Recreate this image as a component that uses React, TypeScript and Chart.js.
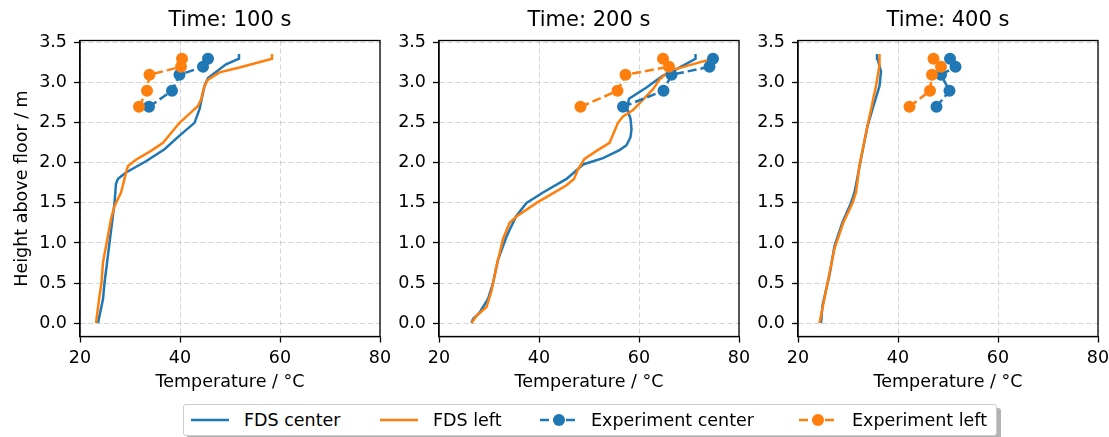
import React, { useEffect, useRef } from "react";
import { Chart, registerables } from "chart.js";

Chart.register(...registerables);

const FONT = "'DejaVu Sans', 'Liberation Sans', sans-serif";
const BLUE = "#1f77b4";
const ORANGE = "#ff7f0e";

const TITLES = ["Time: 100 s", "Time: 200 s", "Time: 400 s"];
const X_TICKS = [20, 40, 60, 80];
const Y_TICKS = [0, 0.5, 1.0, 1.5, 2.0, 2.5, 3.0, 3.5];
const X_MIN = 20;
const X_MAX = 80;
const Y_MIN = -0.168;
const Y_MAX = 3.528;

const EXP_Z = [2.7, 2.9, 3.1, 3.2, 3.3];

// Time 100 s
const FDS_C_100_Z = [0, 0.3, 0.5, 1.0, 1.5, 1.74, 1.8, 1.88, 2.02, 2.17, 2.34, 2.5, 2.67, 2.96, 3.06, 3.23, 3.3, 3.36];
const FDS_C_100_T = [23.6, 24.6, 24.9, 25.9, 26.9, 27.2, 27.6, 29.2, 33.2, 36.9, 39.9, 42.9, 43.9, 44.9, 45.6, 49.2, 51.8, 51.8];
const FDS_L_100_Z = [0, 0.34, 0.5, 0.76, 0.96, 1.3, 1.46, 1.63, 1.8, 1.88, 1.96, 2.04, 2.15, 2.25, 2.5, 2.63, 2.71, 2.79, 2.96, 3.04, 3.13, 3.19, 3.3, 3.36];
const FDS_L_100_T = [23.2, 23.9, 24.3, 24.6, 25.2, 26.2, 26.9, 28.2, 28.9, 29.2, 29.6, 31.2, 34.2, 36.6, 39.9, 42.2, 43.6, 44.2, 44.9, 45.6, 47.9, 51.9, 58.4, 58.4];
const EXP_C_100 = [33.8, 38.4, 39.9, 44.6, 45.6];
const EXP_L_100 = [31.8, 33.4, 33.9, 40.2, 40.4];

// Time 200 s
const FDS_C_200_Z = [0, 0.05, 0.13, 0.3, 0.5, 0.79, 1.08, 1.33, 1.5, 1.63, 1.8, 1.88, 1.98, 2.06, 2.16, 2.22, 2.32, 2.42, 2.55, 2.68, 2.8, 2.94, 3.09, 3.17, 3.3, 3.36];
const FDS_C_200_T = [26.5, 26.8, 28.1, 29.8, 30.8, 31.8, 33.5, 35.4, 37.5, 40.8, 45.5, 47.0, 48.8, 52.8, 56.1, 57.5, 58.3, 58.5, 58.3, 57.6, 58.0, 61.5, 64.8, 67.5, 71.3, 71.3];
const FDS_L_200_Z = [0, 0.09, 0.2, 0.4, 0.71, 1.05, 1.25, 1.33, 1.5, 1.61, 1.72, 1.8, 1.92, 2.05, 2.15, 2.25, 2.5, 2.58, 2.66, 2.79, 2.92, 3.04, 3.15, 3.22, 3.3, 3.36];
const FDS_L_200_T = [26.5, 27.5, 29.5, 30.5, 31.5, 32.8, 34.1, 35.5, 39.5, 42.5, 45.5, 47.0, 47.8, 49.1, 51.5, 54.1, 55.8, 56.8, 58.8, 60.8, 62.8, 64.1, 66.1, 70.1, 74.8, 75.1];
const EXP_C_200 = [56.8, 64.9, 66.5, 74.1, 74.8];
const EXP_L_200 = [48.3, 55.7, 57.3, 66.0, 64.8];

// Time 400 s
const FDS_C_400_Z = [0, 0.22, 0.6, 0.96, 1.26, 1.5, 1.63, 2.05, 2.46, 2.67, 2.96, 3.14, 3.3, 3.36];
const FDS_C_400_T = [24.6, 24.9, 26.3, 27.3, 28.9, 30.6, 31.3, 32.6, 33.9, 34.9, 36.3, 36.6, 35.9, 35.8];
const FDS_L_400_Z = [0, 0.5, 0.93, 1.26, 1.5, 1.63, 1.97, 2.46, 2.96, 3.22, 3.36];
const FDS_L_400_T = [24.3, 25.9, 27.3, 29.1, 30.9, 31.6, 32.3, 33.9, 35.6, 36.3, 36.3];
const EXP_C_400 = [47.7, 50.3, 48.6, 51.5, 50.4];
const EXP_L_400 = [42.3, 46.4, 46.8, 48.6, 47.1];

const SERIES_NAMES = ["FDS center", "FDS left", "Experiment center", "Experiment left"];

const PANELS = [
  { title: TITLES[0], fc: [FDS_C_100_T, FDS_C_100_Z], fl: [FDS_L_100_T, FDS_L_100_Z], ec: EXP_C_100, el: EXP_L_100 },
  { title: TITLES[1], fc: [FDS_C_200_T, FDS_C_200_Z], fl: [FDS_L_200_T, FDS_L_200_Z], ec: EXP_C_200, el: EXP_L_200 },
  { title: TITLES[2], fc: [FDS_C_400_T, FDS_C_400_Z], fl: [FDS_L_400_T, FDS_L_400_Z], ec: EXP_C_400, el: EXP_L_400 },
];

const PANEL_LEFT = [80, 439, 798];
const AXIS_W = 80;
const AREA_W = 300;
const PAD_R = 20;
const CANVAS_H = 400;
const AREA_BOTTOM = 336.5;

const pairs = (xs: number[], ys: number[]) => xs.map((x, i) => ({ x, y: ys[i] }));

const spinePlugin = {
  id: "spines",
  afterDatasetsDraw(chart: any) {
    const { ctx, chartArea } = chart;
    ctx.save();
    ctx.strokeStyle = "#000";
    ctx.lineWidth = 1.3;
    ctx.strokeRect(chartArea.left, chartArea.top, chartArea.right - chartArea.left, chartArea.bottom - chartArea.top);
    ctx.restore();
  },
};

function Panel({ index }: { index: number }) {
  const ref = useRef<HTMLCanvasElement | null>(null);
  useEffect(() => {
    const p = PANELS[index];
    const tickFont = { family: FONT, size: 17.5 };
    const chart = new Chart(ref.current as HTMLCanvasElement, {
      type: "scatter",
      data: {
        datasets: [
          { label: SERIES_NAMES[0], data: pairs(p.fc[0], p.fc[1]), showLine: true, borderColor: BLUE, backgroundColor: BLUE, borderWidth: 2.5, pointRadius: 0, order: 4 },
          { label: SERIES_NAMES[1], data: pairs(p.fl[0], p.fl[1]), showLine: true, borderColor: ORANGE, backgroundColor: ORANGE, borderWidth: 2.5, pointRadius: 0, order: 3 },
          { label: SERIES_NAMES[2], data: pairs(p.ec, EXP_Z), showLine: true, borderColor: BLUE, backgroundColor: BLUE, borderWidth: 2.5, borderDash: [9, 4], pointRadius: 6, pointBorderWidth: 0, pointBackgroundColor: BLUE, order: 2 },
          { label: SERIES_NAMES[3], data: pairs(p.el, EXP_Z), showLine: true, borderColor: ORANGE, backgroundColor: ORANGE, borderWidth: 2.5, borderDash: [9, 4], pointRadius: 6, pointBorderWidth: 0, pointBackgroundColor: ORANGE, order: 1 },
        ],
      },
      options: {
        animation: false,
        responsive: false,
        events: [],
        layout: { padding: { left: 0, right: PAD_R, top: 0, bottom: 0 } },
        plugins: {
          legend: { display: false },
          tooltip: { enabled: false },
          title: {
            display: true,
            text: p.title,
            fullSize: false,
            color: "#000",
            font: { family: FONT, size: 21, weight: "normal" },
            padding: { top: 8, bottom: 7.3 },
          },
        },
        scales: {
          x: {
            type: "linear",
            min: X_MIN,
            max: X_MAX,
            afterBuildTicks: (s: any) => { s.ticks = X_TICKS.map((v) => ({ value: v })); },
            afterFit: (s: any) => { s.height = CANVAS_H - AREA_BOTTOM; },
            ticks: { font: tickFont, color: "#000", padding: 5, maxRotation: 0, autoSkip: false, callback: (v: any) => String(v) },
            grid: { color: "rgba(176,176,176,0.55)", lineWidth: 1, tickLength: 6, tickColor: "#000", tickWidth: 1.3 },
            border: { display: true, color: "#000", width: 1.3, dash: [5, 3] },
            title: { display: true, text: "Temperature / °C", color: "#000", font: tickFont, padding: { top: 0, bottom: 7.5 } },
          },
          y: {
            type: "linear",
            min: Y_MIN,
            max: Y_MAX,
            afterBuildTicks: (s: any) => { s.ticks = Y_TICKS.map((v) => ({ value: v })); },
            afterFit: (s: any) => { s.width = AXIS_W; },
            ticks: { font: tickFont, color: "#000", padding: 7, autoSkip: false, callback: (v: any) => Number(v).toFixed(1) },
            grid: { color: "rgba(176,176,176,0.55)", lineWidth: 1, tickLength: 6, tickColor: "#000", tickWidth: 1.3 },
            border: { display: true, color: "#000", width: 1.3, dash: [5, 3] },
            title: { display: index === 0, text: "Height above floor / m", color: "#000", font: tickFont, padding: { top: 11.7, bottom: 0 } },
          },
        },
      } as any,
      plugins: [spinePlugin],
    });
    return () => chart.destroy();
  }, [index]);
  const w = AXIS_W + AREA_W + PAD_R;
  return (
    <canvas
      ref={ref}
      width={w}
      height={CANVAS_H}
      style={{ position: "absolute", left: PANEL_LEFT[index] - AXIS_W, top: 0, width: w, height: CANVAS_H }}
    />
  );
}

const LEGEND_ITEMS = [
  { color: BLUE, marker: false, sx: 7, tx: 60 },
  { color: ORANGE, marker: false, sx: 196, tx: 249 },
  { color: BLUE, marker: true, sx: 356, tx: 407 },
  { color: ORANGE, marker: true, sx: 615, tx: 668 },
];

function Legend() {
  return (
    <div
      style={{
        position: "absolute",
        left: 183,
        top: 404,
        width: 814,
        height: 32,
        boxSizing: "border-box",
        border: "1px solid #cccccc",
        borderRadius: 3,
        background: "#fff",
        boxShadow: "4px 4px 0 rgba(0,0,0,0.3)",
        fontFamily: FONT,
        fontSize: 17.5,
        color: "#000",
      }}
    >
      {LEGEND_ITEMS.map((it, i) => (
        <React.Fragment key={i}>
          <svg style={{ position: "absolute", left: it.sx, top: 0 }} width={40} height={30}>
            <line x1={0} y1={15} x2={38} y2={15} stroke={it.color} strokeWidth={2.5} strokeDasharray={it.marker ? "9 4" : undefined} />
            {it.marker && <circle cx={19} cy={15} r={6} fill={it.color} />}
          </svg>
          <span style={{ position: "absolute", left: it.tx, top: 0, lineHeight: "30px", whiteSpace: "nowrap" }}>{SERIES_NAMES[i]}</span>
        </React.Fragment>
      ))}
    </div>
  );
}

export default function App() {
  return (
    <div style={{ position: "absolute", left: 0, top: 0, width: 1109, height: 437, background: "#fff", overflow: "hidden" }}>
      <Panel index={0} />
      <Panel index={1} />
      <Panel index={2} />
      <Legend />
    </div>
  );
}
